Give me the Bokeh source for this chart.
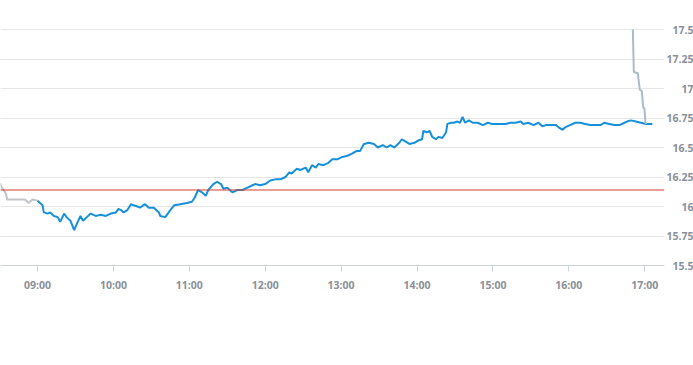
import pandas as pd
from bokeh.plotting import figure
from bokeh.models import Range1d, FixedTicker, DatetimeTickFormatter, Span, LinearAxis, CustomJSTickFormatter
from bokeh.embed import file_html
from bokeh.resources import INLINE

DAY = "2024-01-02 "

pre_times = ["08:30", "08:32", "08:35", "08:36", "08:43", "08:50", "08:53", "08:56", "09:00"]
pre_values = [16.20, 16.16, 16.11, 16.06, 16.06, 16.06, 16.03, 16.06, 16.05]

main_times = [
    "09:00", "09:02", "09:04", "09:05", "09:08", "09:10", "09:13", "09:16", "09:18", "09:21",
    "09:23", "09:26", "09:29", "09:31", "09:34", "09:36", "09:39", "09:42", "09:46", "09:50",
    "09:54", "09:58", "10:02", "10:04", "10:06", "10:08", "10:11", "10:14", "10:16", "10:19",
    "10:21", "10:25", "10:28", "10:32", "10:36", "10:37", "10:41", "10:45", "10:48", "10:53",
    "10:58", "11:02", "11:04", "11:07", "11:10", "11:13", "11:15", "11:19", "11:22", "11:25",
    "11:27", "11:30", "11:34", "11:38", "11:42", "11:46", "11:50", "11:52", "11:56", "12:00",
    "12:04", "12:08", "12:12", "12:16", "12:19", "12:21", "12:25", "12:28", "12:32", "12:34",
    "12:37", "12:40", "12:42", "12:46", "12:50", "12:53", "12:57", "13:01", "13:05", "13:09",
    "13:12", "13:15", "13:18", "13:22", "13:26", "13:29", "13:33", "13:36", "13:39", "13:42",
    "13:46", "13:48", "13:51", "13:54", "13:58", "14:01", "14:04", "14:05", "14:08", "14:10",
    "14:12", "14:15", "14:17", "14:20", "14:23", "14:24", "14:27", "14:29", "14:32", "14:34",
    "14:36", "14:38", "14:41", "14:44", "14:48", "14:52", "14:56", "14:59", "15:05", "15:10",
    "15:14", "15:18", "15:22", "15:24", "15:28", "15:32", "15:36", "15:39", "15:42", "15:46",
    "15:50", "15:52", "15:55", "15:57", "16:01", "16:05", "16:09", "16:13", "16:17", "16:21",
    "16:25", "16:28", "16:32", "16:36", "16:40", "16:44", "16:46", "16:49", "16:53", "16:57",
    "17:01", "17:06",
]
main_values = [
    16.05, 16.03, 16.01, 15.95, 15.94, 15.95, 15.92, 15.91, 15.87, 15.94,
    15.91, 15.88, 15.80, 15.85, 15.92, 15.88, 15.91, 15.94, 15.92, 15.93,
    15.92, 15.94, 15.95, 15.98, 15.97, 15.95, 15.97, 16.02, 16.01, 16.00,
    15.99, 16.02, 15.99, 15.99, 15.95, 15.92, 15.91, 15.97, 16.01, 16.02,
    16.03, 16.04, 16.07, 16.14, 16.12, 16.09, 16.14, 16.19, 16.21, 16.19,
    16.15, 16.16, 16.12, 16.14, 16.14, 16.16, 16.18, 16.19, 16.18, 16.19,
    16.22, 16.23, 16.23, 16.25, 16.29, 16.28, 16.32, 16.31, 16.33, 16.29,
    16.35, 16.33, 16.36, 16.35, 16.37, 16.40, 16.40, 16.42, 16.43, 16.45,
    16.47, 16.47, 16.53, 16.54, 16.53, 16.50, 16.52, 16.50, 16.52, 16.50,
    16.54, 16.57, 16.55, 16.53, 16.54, 16.56, 16.57, 16.64, 16.63, 16.64,
    16.59, 16.57, 16.59, 16.58, 16.63, 16.70, 16.71, 16.71, 16.72, 16.71,
    16.76, 16.71, 16.73, 16.71, 16.71, 16.69, 16.71, 16.70, 16.70, 16.70,
    16.71, 16.71, 16.72, 16.70, 16.71, 16.69, 16.71, 16.68, 16.69, 16.69,
    16.69, 16.67, 16.65, 16.67, 16.69, 16.71, 16.71, 16.70, 16.69, 16.69,
    16.69, 16.71, 16.70, 16.69, 16.69, 16.71, 16.72, 16.73, 16.72, 16.71,
    16.70, 16.70,
]

post_times = ["16:50:36", "16:51:24", "16:54:30", "16:56:06", "16:57:42", "16:58:48", "16:59:48", "17:00:36", "17:01:24"]
post_values = [17.50, 17.14, 17.13, 16.99, 16.98, 16.84, 16.83, 16.71, 16.70]

reference_price = 16.14

x_tick_times = ["09:00", "10:00", "11:00", "12:00", "13:00", "14:00", "15:00", "16:00", "17:00"]
y_ticks = [15.5, 15.75, 16.0, 16.25, 16.5, 16.75, 17.0, 17.25, 17.5]

x_start_time = "08:30:45"
x_end_time = "17:15:38"
y_start = 15.5
y_end = 17.746


def ts(t_list):
    return pd.to_datetime([DAY + t for t in t_list])


LABEL_COLOR = "#8a9099"
FONT = "Open Sans"
FSIZE = "10.5px"

x_start = pd.Timestamp(DAY + x_start_time)
x_end = pd.Timestamp(DAY + x_end_time)

p = figure(
    x_axis_type="datetime", y_axis_location=None,
    frame_width=664, frame_height=265,
    output_backend="svg", toolbar_location=None,
    x_range=Range1d(x_start, x_end), y_range=Range1d(y_start, y_end),
    min_border_left=0, min_border_top=0, min_border_right=29, min_border_bottom=100,
)
p.outline_line_color = None
p.background_fill_color = "white"
p.border_fill_color = "white"

p.line(ts(pre_times), pre_values, line_color="#c2c5c8", line_width=2)
p.line(ts(main_times), main_values, line_color="#1790dc", line_width=2)
p.line(ts(post_times), post_values, line_color="#a9bccb", line_width=2)

p.add_layout(Span(location=reference_price, dimension="width", line_color="#d43c33", line_width=1))

# x axis
xt = [int(t.value // 10**6) for t in ts(x_tick_times)]
p.xaxis.ticker = FixedTicker(ticks=xt)
p.xaxis.formatter = DatetimeTickFormatter(hours="%H:%M", minutes="%H:%M", hourmin="%H:%M", days="%H:%M")
p.xaxis.major_tick_out = 6
p.xaxis.major_tick_in = 0
p.xaxis.minor_tick_line_color = None
p.xaxis.axis_line_color = "#ccd3dd"
p.xaxis.major_tick_line_color = "#ccd3dd"
p.xaxis.major_label_text_color = LABEL_COLOR
p.xaxis.major_label_text_font = FONT
p.xaxis.major_label_text_font_size = FSIZE
p.xaxis.major_label_text_font_style = "bold"
p.xaxis.major_label_standoff = 6
p.xgrid.visible = False

# right y axis without ticks/line; labels padded with figure spaces so they end flush right
yax = LinearAxis(
    ticker=FixedTicker(ticks=y_ticks),
    formatter=CustomJSTickFormatter(code="""
        const s = String(Math.round(tick * 100) / 100);
        const parts = s.split('.');
        let pad = '';
        if (parts.length == 1) { pad = '\\u2008\\u2007\\u2007'; }
        else if (parts[1].length == 1) { pad = '\\u2007'; }
        return pad + s;
    """),
)
yax.axis_line_color = None
yax.major_tick_line_color = None
yax.minor_tick_line_color = None
yax.major_tick_in = 0
yax.major_tick_out = 0
yax.major_label_standoff = 2
yax.major_label_text_color = LABEL_COLOR
yax.major_label_text_font = FONT
yax.major_label_text_font_size = FSIZE
yax.major_label_text_font_style = "bold"
p.add_layout(yax, "right")
p.ygrid.ticker = FixedTicker(ticks=y_ticks)
p.ygrid.grid_line_color = "#e6e6e6"

open("out.html", "w").write(file_html(p, INLINE))
